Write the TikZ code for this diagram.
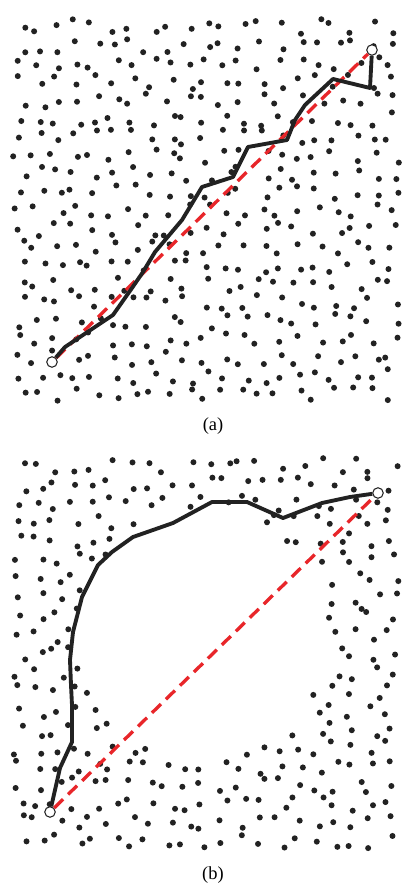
\documentclass[tikz,border=0pt]{standalone}
\usepackage{fontspec}
\setmainfont{Liberation Serif}
\usepackage{tikz}
\usetikzlibrary{positioning}
\definecolor{ptdark}{HTML}{222222}
\definecolor{ptred}{HTML}{E8262A}

\begin{document}
\begin{tikzpicture}[x=0.02cm,y=-0.02cm,
    pt/.style={fill=ptdark},
    route/.style={ptdark,line width=2.2pt,line join=round},
    direct/.style={ptred,line width=1.9pt,dash pattern=on 0.25cm off 0.14cm},
    endpt/.style={circle,draw=ptdark,fill=white,line width=0.6pt,inner sep=0pt,minimum size=0.21cm},
    sublabel/.style={font=\fontsize{10.5}{12}\selectfont}]
    \useasboundingbox (0,0) rectangle (406,888);
    \pgfmathsetseed{4217}
    % nuage (a), grille perturbee
    \foreach \i in {0,...,20}{
      \foreach \j in {0,...,20}{
        \pgfmathsetmacro\px{12+18.6*\i+rnd*15}
        \pgfmathsetmacro\py{19+18.4*\j+rnd*15}
        \fill[pt] (\px,\py) circle[radius=0.06cm];
      }
    }
    % nuage (b), avec le trou
    \foreach \i in {0,...,20}{
      \foreach \j in {0,...,20}{
        \pgfmathsetmacro\px{12+18.6*\i+rnd*15}
        \pgfmathsetmacro\py{458+18.8*\j+rnd*15}
        \pgfmathtruncatemacro\inhole{((\px-203)/100)^2+((\py-635)/100)^2<1.56}
        \ifnum\inhole=0 \fill[pt] (\px,\py) circle[radius=0.06cm]; \fi
      }
    }
    % (a)
    \node[endpt] (sa) at (52,362) {};
    \node[endpt] (ta) at (372,50) {};
    \draw[direct] (sa) -- (ta);
    \draw[route] (sa) -- (65,347) -- (83,335) -- (113,315) -- (132,288) -- (143,272)
      -- (155,252) -- (182,220) -- (202,187) -- (233,177) -- (248,147) -- (287,140)
      -- (295,120) -- (305,105) -- (333,79) -- (370,88) -- (ta);
    \node[sublabel] (la) at (213,426) {(a)};
    % (b)
    \node[endpt] (sb) at (50,812) {};
    \node[endpt] (tb) at (378,493) {};
    \draw[direct] (sb) -- (tb);
    \draw[route] (sb) -- (60,768) -- (72,742) -- (72,705) -- (71,685) -- (70,660)
      -- (73,632) -- (82,597) -- (98,565) -- (112,552) -- (133,537) -- (173,523)
      -- (212,502) -- (247,502) -- (283,518) -- (322,503) -- (350,497) -- (tb);
    \node[sublabel] (lb) at (213,875) {(b)};
\end{tikzpicture}
\end{document}
